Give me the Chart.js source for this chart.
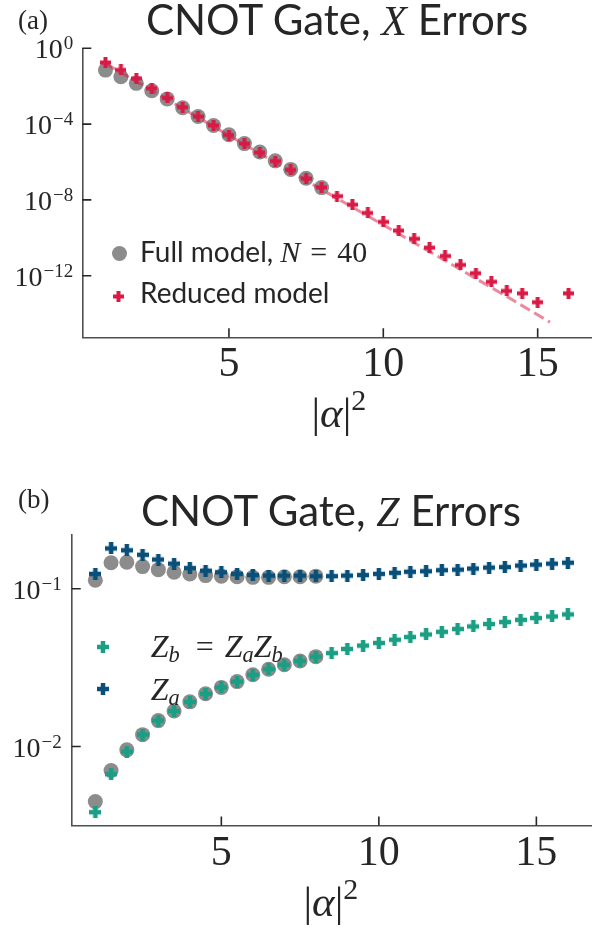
<!DOCTYPE html>
<html>
<head>
<meta charset="utf-8">
<script src="https://cdn.jsdelivr.net/npm/chart.js@4.4.0/dist/chart.umd.min.js"></script>
<style>
  html, body { margin: 0; padding: 0; background: #fff; }
  #page { position: relative; width: 602px; height: 932px; overflow: hidden; }
  #page canvas { position: absolute; left: 0; }
  .txt { position: absolute; white-space: nowrap; line-height: 1; color: #262626; }
  .sans { font-family: Lato, "Open Sans", sans-serif; }
  .serif { font-family: "Liberation Serif", "DejaVu Serif", serif; }
  .m { font-family: "Liberation Serif", "DejaVu Serif", serif; font-style: italic; }
  .m sub { font-size: 0.7em; vertical-align: -0.22em; line-height: 0; }
</style>
</head>
<body>
<div id="page">
  <canvas id="chartX" width="602" height="466" style="top:0"></canvas>
  <canvas id="chartZ" width="602" height="466" style="top:466px"></canvas>
</div>
<script>
// ---------------------------- Data ---------------------------------------
const xTickVals = [5, 10, 15]
const yTickExpX = [0, -4, -8, -12]
const yTickExpZ = [-1, -2]

// (a) X errors
const xFullX = [1, 1.5, 2, 2.5, 3, 3.5, 4, 4.5, 5, 5.5, 6, 6.5, 7, 7.5, 8]
const fullX = [7.08e-2, 3.16e-2, 1.41e-2, 5.75e-3, 2.14e-3, 7.24e-4, 2.51e-4, 8.51e-5,
  2.75e-5, 9.33e-6, 3.39e-6, 1.15e-6, 4.07e-7, 1.38e-7, 4.47e-8]
const xReducedX = [1, 1.5, 2, 2.5, 3, 3.5, 4, 4.5, 5, 5.5, 6, 6.5, 7, 7.5, 8, 8.5, 9, 9.5,
  10, 10.5, 11, 11.5, 12, 12.5, 13, 13.5, 14, 14.5, 15, 16]
const reducedX = [1.78e-1, 7.24e-2, 2.57e-2, 7.76e-3, 2.40e-3, 7.76e-4, 2.51e-4, 8.51e-5,
  2.63e-5, 9.33e-6, 3.16e-6, 1.12e-6, 3.80e-7, 1.32e-7, 4.57e-8, 1.58e-8, 5.62e-9, 2.04e-9,
  6.92e-10, 2.40e-10, 8.91e-11, 3.02e-11, 1.10e-11, 3.72e-12, 1.35e-12, 4.79e-13, 1.58e-13,
  1.17e-13, 3.98e-14, 1.17e-13]
const xFitX = [1, 4, 8, 10, 12, 14, 15.4]
const fitX = [1.6e-1, 2.24e-4, 3.55e-8, 4.79e-10, 6.31e-12, 7.94e-14, 3.55e-15]

// (b) Z errors
const xFullZ = [1, 1.5, 2, 2.5, 3, 3.5, 4, 4.5, 5, 5.5, 6, 6.5, 7, 7.5, 8]
const fullZa = [1.13e-1, 1.46e-1, 1.47e-1, 1.38e-1, 1.32e-1, 1.27e-1, 1.24e-1, 1.21e-1,
  1.20e-1, 1.19e-1, 1.18e-1, 1.18e-1, 1.19e-1, 1.19e-1, 1.20e-1]
const fullZb = [4.48e-3, 7.05e-3, 9.53e-3, 1.19e-2, 1.46e-2, 1.68e-2, 1.92e-2, 2.16e-2,
  2.37e-2, 2.58e-2, 2.85e-2, 3.09e-2, 3.30e-2, 3.48e-2, 3.71e-2]
const xReducedZ = [1, 1.5, 2, 2.5, 3, 3.5, 4, 4.5, 5, 5.5, 6, 6.5, 7, 7.5, 8, 8.5, 9, 9.5,
  10, 10.5, 11, 11.5, 12, 12.5, 13, 13.5, 14, 14.5, 15, 15.5, 16]
const reducedZa = [1.24e-1, 1.80e-1, 1.75e-1, 1.64e-1, 1.53e-1, 1.44e-1, 1.35e-1, 1.30e-1,
  1.27e-1, 1.24e-1, 1.22e-1, 1.21e-1, 1.21e-1, 1.21e-1, 1.20e-1, 1.20e-1, 1.21e-1, 1.22e-1,
  1.24e-1, 1.26e-1, 1.28e-1, 1.29e-1, 1.31e-1, 1.32e-1, 1.34e-1, 1.36e-1, 1.37e-1, 1.40e-1,
  1.42e-1, 1.44e-1, 1.46e-1]
const reducedZb = [3.84e-3, 6.68e-3, 9.29e-3, 1.19e-2, 1.46e-2, 1.68e-2, 1.92e-2, 2.16e-2,
  2.37e-2, 2.58e-2, 2.85e-2, 3.09e-2, 3.30e-2, 3.48e-2, 3.71e-2, 3.91e-2, 4.15e-2, 4.36e-2,
  4.53e-2, 4.75e-2, 4.94e-2, 5.13e-2, 5.33e-2, 5.55e-2, 5.77e-2, 5.97e-2, 6.15e-2, 6.35e-2,
  6.52e-2, 6.67e-2, 6.87e-2]

// ---------------------------- Styles -------------------------------------
const GRAY = '#8c8c8c'
const RED = '#d81a45'
const RED_FIT = 'rgba(220, 20, 60, 0.5)'
const TEAL = '#1a9e84'
const BLUE = '#08507a'
const INK = '#262626'
const SERIF = '"Liberation Serif", "DejaVu Serif", serif'

const page = document.getElementById('page')

// filled plus, like matplotlib's 'P' marker
const plusMarker = (size, thick, color) => {
  const c = document.createElement('canvas')
  c.width = size
  c.height = size
  const g = c.getContext('2d')
  g.fillStyle = color
  const o = (size - thick) / 2
  g.fillRect(o, 0, thick, size)
  g.fillRect(0, o, size, thick)
  return c
}

const toPts = (xs, ys) => xs.map((x, i) => ({ x: x, y: ys[i] }))

// ------------------------ Axis ticks + labels ----------------------------
const drawPow = (ctx, exp, xRight, base) => {
  const sup = exp === 0 ? '0' : '\u2212' + Math.abs(exp)
  ctx.font = '19px ' + SERIF
  const ws = ctx.measureText(sup).width
  ctx.font = '28px ' + SERIF
  const wb = ctx.measureText('10').width
  const x0 = xRight - ws - wb - 1
  ctx.fillText('10', x0, base)
  ctx.font = '19px ' + SERIF
  ctx.fillText(sup, x0 + wb + 1, base - 9)
}

const axisDecor = {
  id: 'axisDecor',
  afterDraw(chart, args, o) {
    const { ctx, chartArea: a, scales: { x, y } } = chart
    ctx.save()
    ctx.strokeStyle = INK
    ctx.lineWidth = 1.6
    ctx.beginPath()
    x.ticks.forEach(t => {
      const px = x.getPixelForValue(t.value)
      ctx.moveTo(px, a.bottom)
      ctx.lineTo(px, a.bottom - 9)
    })
    y.ticks.forEach(t => {
      const py = y.getPixelForValue(t.value)
      ctx.moveTo(a.left, py)
      ctx.lineTo(a.left + 9, py)
    })
    ctx.stroke()

    ctx.fillStyle = INK
    ctx.textBaseline = 'alphabetic'
    ctx.textAlign = 'center'
    ctx.font = '42px ' + SERIF
    x.ticks.forEach(t => {
      ctx.fillText(String(t.value), x.getPixelForValue(t.value), a.bottom + o.xBase)
    })
    ctx.textAlign = 'left'
    y.ticks.forEach(t => {
      const py = y.getPixelForValue(t.value)
      drawPow(ctx, Math.round(Math.log10(t.value)), a.left - o.yGap, py + 10)
    })
    ctx.restore()
  }
}

const makeChart = (canvas, datasets, cfg) => new Chart(canvas, {
  type: 'scatter',
  data: { datasets: datasets },
  options: {
    responsive: false,
    animation: false,
    devicePixelRatio: 1,
    layout: { padding: { top: cfg.top, right: cfg.right, left: 0, bottom: 0 } },
    plugins: {
      legend: { display: false },
      tooltip: { enabled: false },
      axisDecor: { xBase: cfg.xBase, yGap: cfg.yGap }
    },
    scales: {
      x: {
        type: 'linear', min: 0.25, max: 16.75,
        grid: { display: false },
        border: { color: '#4f4f4f', width: 1.6 },
        ticks: { display: false },
        afterBuildTicks: s => { s.ticks = xTickVals.map(v => ({ value: v })) },
        afterFit: s => { s.height = cfg.xh }
      },
      y: {
        type: 'logarithmic', min: cfg.ymin, max: cfg.ymax,
        grid: { display: false },
        border: { color: '#4f4f4f', width: 1.6 },
        ticks: { display: false },
        afterBuildTicks: s => { s.ticks = cfg.yExp.map(e => ({ value: Math.pow(10, e) })) },
        afterFit: s => { s.width = cfg.yw }
      }
    }
  },
  plugins: [axisDecor]
})

// ------------------------------ (a) --------------------------------------
makeChart(document.getElementById('chartX'), [
  {
    data: toPts(xReducedX, reducedX), order: 0, clip: false,
    pointStyle: plusMarker(11, 4, RED), pointRadius: 6
  },
  {
    data: toPts(xFitX, fitX), order: 1, clip: false, showLine: true,
    borderColor: RED_FIT, borderWidth: 3, borderDash: [11, 5], pointRadius: 0
  },
  {
    data: toPts(xFullX, fullX), order: 2, clip: false,
    pointStyle: 'circle', pointRadius: 7.5, backgroundColor: GRAY, borderWidth: 0
  }
], {
  top: 48.3, right: 10.3, yw: 82.3, xh: 128.7,
  ymin: Math.pow(10, -15.25), ymax: 1, yExp: yTickExpX, xBase: 38.5, yGap: 9
})

// ------------------------------ (b) --------------------------------------
makeChart(document.getElementById('chartZ'), [
  {
    data: toPts(xReducedZ, reducedZb), order: 0, clip: false,
    pointStyle: plusMarker(12, 4.5, TEAL), pointRadius: 6
  },
  {
    data: toPts(xReducedZ, reducedZa), order: 0, clip: false,
    pointStyle: plusMarker(12, 4.5, BLUE), pointRadius: 6
  },
  {
    data: toPts(xFullZ, fullZb), order: 2, clip: false,
    pointStyle: 'circle', pointRadius: 7.5, backgroundColor: GRAY, borderWidth: 0
  },
  {
    data: toPts(xFullZ, fullZa), order: 2, clip: false,
    pointStyle: 'circle', pointRadius: 7.5, backgroundColor: GRAY, borderWidth: 0
  }
], {
  top: 69, right: 10.5, yw: 71.7, xh: 106.5,
  ymin: Math.pow(10, -2.5), ymax: Math.pow(10, -0.66), yExp: yTickExpZ, xBase: 39.5, yGap: 10
})

// --------------------------- Text overlays -------------------------------
const label = (html, size, x, baseline, align) => {
  const d = document.createElement('div')
  d.className = 'txt'
  d.style.fontSize = size + 'px'
  d.innerHTML = html + '<span style="display:inline-block;width:0;height:0"></span>'
  page.appendChild(d)
  const b = d.lastChild.offsetTop
  const w = d.offsetWidth
  d.style.top = (baseline - b) + 'px'
  d.style.left = (align === 'center' ? x - w / 2 : x) + 'px'
}

const marker = (el, cx, cy) => {
  el.style.position = 'absolute'
  el.style.left = (cx - el.width / 2) + 'px'
  el.style.top = (cy - el.height / 2) + 'px'
  page.appendChild(el)
}

const dot = (r, color) => {
  const c = document.createElement('canvas')
  c.width = c.height = Math.ceil(r * 2) + 2
  const g = c.getContext('2d')
  g.fillStyle = color
  g.beginPath()
  g.arc(c.width / 2, c.height / 2, r, 0, Math.PI * 2)
  g.fill()
  return c
}

const alpha2 = '<span class="serif">|</span><span class="m">&alpha;</span><span class="serif">|</span>' +
  '<span class="serif" style="font-size:30px;position:relative;top:-17px">2</span>'

// (a)
label('<span class="serif">(a)</span>', 27, 18, 29)
label('<span class="sans">CNOT Gate, </span><span class="m">X</span><span class="sans"> Errors</span>', 42, 337, 35, 'center')
label(alpha2, 43, 339, 427, 'center')
marker(dot(7.5, GRAY), 119.3, 253.3)
label('<span class="sans">Full model, </span><span class="m" style="font-size:30px">N</span>' +
  '<span class="serif" style="font-size:30px"><span style="margin:0 10px">=</span>40</span>', 28, 140, 261.7)
marker(plusMarker(11, 4, RED), 118.3, 296)
label('<span class="sans">Reduced model</span>', 28, 140, 303)

// (b)
label('<span class="serif">(b)</span>', 27, 18, 508)
label('<span class="sans">CNOT Gate, </span><span class="m">Z</span><span class="sans"> Errors</span>', 42, 331, 526, 'center')
label(alpha2, 43, 331, 915.5, 'center')
marker(plusMarker(12, 4.5, TEAL), 103.3, 646.7)
label('<span class="m">Z<sub>b</sub></span><span class="serif" style="margin:0 11px 0 16px">=</span>' +
  '<span class="m">Z<sub>a</sub>Z<sub>b</sub></span>', 32, 150.7, 657.3)
marker(plusMarker(12, 4.5, BLUE), 103.3, 689)
label('<span class="m">Z<sub>a</sub></span>', 32, 150.7, 700)
</script>
</body>
</html>
